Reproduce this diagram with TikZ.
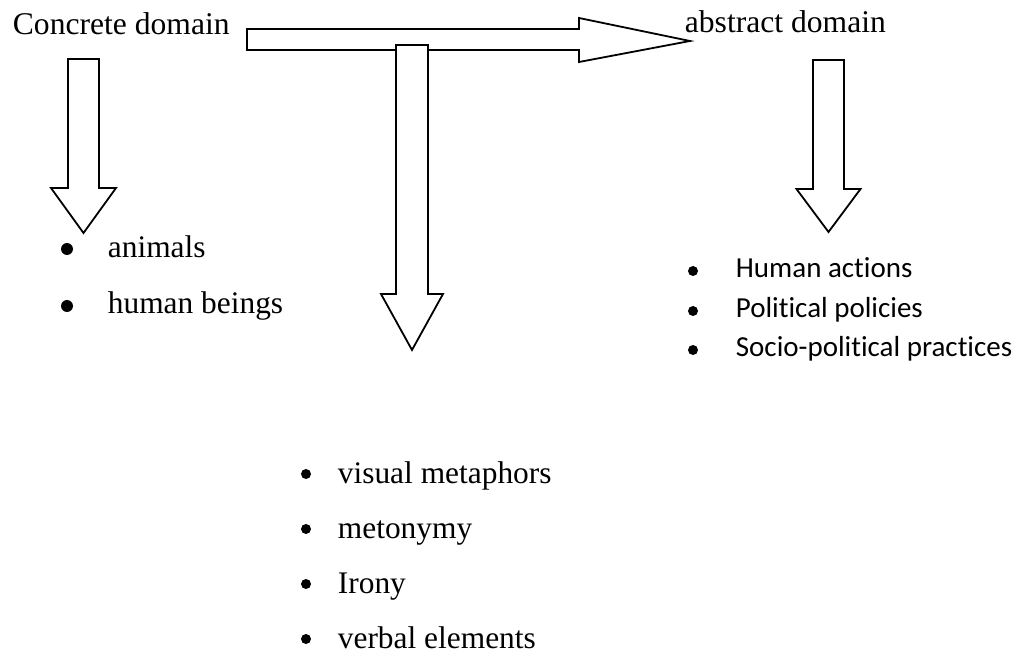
\documentclass[tikz,border=0pt]{standalone}
\usepackage{fontspec}
\setmainfont{Liberation Serif}
\newfontfamily\calibri[Ligatures=NoCommon]{Carlito}
\usetikzlibrary{positioning}

% down pointing block arrow: centre x, top, neck, tip, half shaft, half head
\newcommand{\downblock}[6]{%
        \draw[block] ({#1-#5}, #2) -- ({#1+#5}, #2) -- ({#1+#5}, #3) -- ({#1+#6}, #3)
                -- (#1, #4) -- ({#1-#6}, #3) -- ({#1-#5}, #3) -- cycle;}

\begin{document}
\begin{tikzpicture}[x=0.5pt, y=-0.5pt, line width=0.9pt,
        block/.style={draw=black, fill=white, line join=miter},
        domainlabel/.style={anchor=base west, inner sep=0pt, font=\fontsize{15.8}{18}\selectfont},
        serifitem/.style={anchor=base west, inner sep=0pt, font=\fontsize{15.7}{18}\selectfont},
        sansitem/.style={anchor=base west, inner sep=0pt, font=\calibri\fontsize{14.5}{17}\selectfont}]
        \useasboundingbox (0, 0) rectangle (1019, 658);

        \node[domainlabel] (concrete) at (12, 35) {Concrete domain};
        \node[domainlabel] (abstract) at (684, 33) {abstract domain};

        % from concrete to abstract
        \draw[block] (247, 29) -- (579, 29) -- (579, 18) -- (690, 41)
                -- (579, 62) -- (579, 50) -- (247, 50) -- cycle;

        \downblock{83.5}{59}{188}{233}{15.5}{32.5}
        \downblock{412}{45}{294}{350}{16}{31}
        \downblock{828.5}{60}{189}{232}{15.5}{32}

        \foreach \y/\ytext [count=\i] in {257/animals, 314/human beings} {
                \fill (67, \y-8) circle [radius=3pt];
                \node[serifitem] (concrete-\i) at (107, \y) {\ytext};
        }
        \foreach \y/\ytext [count=\i] in {483/visual metaphors, 538/metonymy, 593/Irony, 648/verbal elements} {
                \fill (306, \y-9) circle [radius=2.5pt];
                \node[serifitem] (means-\i) at (337, \y) {\ytext};
        }
        \foreach \y/\ytext [count=\i] in {278/Human actions, 318/Political policies, 357/Socio-political practices} {
                \fill (693, \y-7) circle [radius=2.5pt];
                \node[sansitem] (abstract-\i) at (735, \y) {\ytext};
        }
\end{tikzpicture}
\end{document}
